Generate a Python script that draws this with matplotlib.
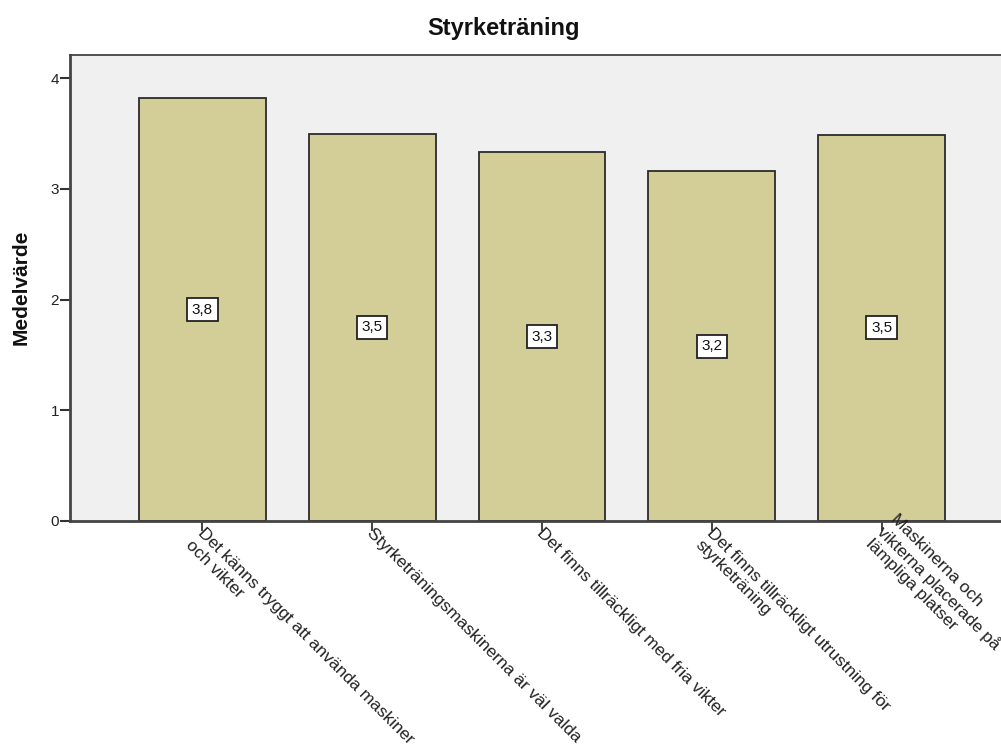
import matplotlib
matplotlib.use("Agg")
import matplotlib.pyplot as plt

plt.rcParams['font.family'] = ['Liberation Sans', 'DejaVu Sans']

title = "Styrketräning"
ylabel = "Medelvärde"
categories = [
    "Det känns tryggt att använda maskiner\noch vikter",
    "Styrketräningsmaskinerna är väl valda",
    "Det finns tillräckligt med fria vikter",
    "Det finns tillräckligt utrustning för\nstyrketräning",
    "Maskinerna och\nvikterna placerade på\nlämpliga platser",
]
means = [3.82, 3.50, 3.33, 3.16, 3.49]
yticks = [0, 1, 2, 3, 4]

fig = plt.figure(figsize=(10.01, 7.56), dpi=100)
ax = fig.add_axes([70 / 1001, 1 - 521 / 756, (1014 - 70) / 1001, (521 - 55) / 756])
ax.set_facecolor('#F0F0F0')

x = list(range(len(categories)))
ax.bar(x, means, width=0.748, color='#D3CE97', edgecolor='#2b2b2b', linewidth=1.3, zorder=2)

ax.set_xlim(-0.78, len(categories) - 0.22)
ax.set_ylim(0, 4.21)
ax.set_yticks(yticks)
ax.set_yticklabels([str(t) for t in yticks], fontsize=11, color='#222222')
ax.tick_params(axis='y', length=7, width=1.5, color='#333333', pad=1)

ax.set_xticks(x)
ax.set_xticklabels([])
ax.tick_params(axis='x', length=7, width=1.3, color='#333333', direction='out')

# Rotated category labels; long wrapped labels are nudged up so the middle line meets the tick
label_size = 12.5
line_pts = label_size * 1.15 * 1.0
for xi, lab in zip(x, categories):
    extra = max(0, lab.count('\n') - 1)
    shift = extra * line_pts / 2 ** 0.5
    ax.annotate(lab, xy=(xi, 0), xycoords=('data', 'axes fraction'),
                xytext=(2 + shift, -3 + shift), textcoords='offset points',
                rotation=-45, rotation_mode='anchor', ha='left', va='top',
                fontsize=label_size, color='#222222', linespacing=1.15, annotation_clip=False)

for xi, v in zip(x, means):
    ax.text(xi, v / 2, f"{v:.1f}".replace('.', ','), ha='center', va='center', fontsize=11,
            color='#111111', zorder=3,
            bbox=dict(boxstyle='square,pad=0.3', facecolor='white', edgecolor='#222222', linewidth=1.3))

for side in ['left', 'bottom']:
    ax.spines[side].set_linewidth(2.0)
    ax.spines[side].set_color('#444444')
ax.spines['top'].set_linewidth(1.3)
ax.spines['top'].set_color('#444444')
ax.spines['right'].set_visible(False)

fig.text(504 / 1001, 1 - 28 / 756, title, ha='center', va='center', fontsize=17,
         fontweight='bold', color='#111111')
fig.text(21 / 1001, 1 - 287 / 756, ylabel, ha='center', va='center', rotation=90,
         fontsize=15, fontweight='bold', color='#111111')

fig.savefig('out.png', dpi=100)
